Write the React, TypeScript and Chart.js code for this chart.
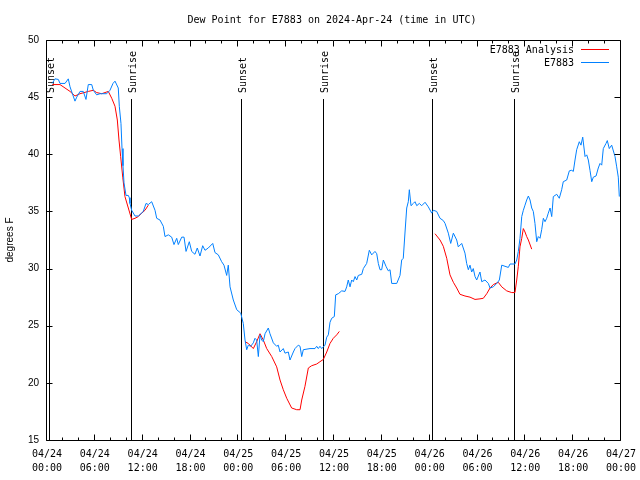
import React, { useEffect, useRef } from 'react';
import { Chart, registerables } from 'chart.js';

Chart.register(...registerables);

const chartTitle = 'Dew Point for E7883 on 2024-Apr-24 (time in UTC)';
const yAxisTitle = 'degrees F';
const analysisLabel = 'E7883 Analysis';
const observedLabel = 'E7883';

const xTickDates = ['04/24', '04/24', '04/24', '04/24', '04/25', '04/25', '04/25', '04/25', '04/26', '04/26', '04/26', '04/26', '04/27'];
const xTickTimes = ['00:00', '06:00', '12:00', '18:00', '00:00', '06:00', '12:00', '18:00', '00:00', '06:00', '12:00', '18:00', '00:00'];

// hours since 04/24 00:00 UTC
const eventHours = [0.25, 10.55, 24.3, 34.65, 48.33, 58.62];
const eventLabels = ['Sunset', 'Sunrise', 'Sunset', 'Sunrise', 'Sunset', 'Sunrise'];

// [hour, dew point °F]
const observedSeries: [number, number][] = [
  [0.66, 46.2], [1.0, 46.6], [1.42, 46.55], [1.63, 46.2], [2.26, 46.2], [2.67, 46.6], [2.89, 45.9], [3.51, 44.65], [3.73, 45.0], [4.14, 45.5],
  [4.55, 45.5], [4.89, 44.8], [5.18, 46.1], [5.61, 46.1], [5.81, 45.6], [6.23, 45.2], [6.65, 45.3], [7.49, 45.3], [7.9, 45.6], [8.28, 46.2],
  [8.53, 46.4], [8.94, 45.8], [9.07, 44.2], [9.28, 42.7], [9.41, 40.5], [9.53, 39.0], [9.66, 37.5], [9.91, 36.4], [10.2, 36.4], [10.32, 36.2],
  [10.41, 35.7], [10.62, 35.1], [11.04, 34.6], [11.45, 34.6], [12.08, 35.0], [12.42, 35.7], [12.71, 35.6], [13.13, 35.85], [13.55, 35.1], [13.76, 34.4],
  [14.17, 34.25], [14.59, 33.7], [14.8, 32.8], [15.22, 32.95], [15.64, 32.75], [15.93, 32.1], [16.27, 32.65], [16.47, 32.1], [16.9, 32.75], [17.19, 32.75],
  [17.44, 31.5], [17.85, 32.35], [18.15, 31.5], [18.56, 31.25], [18.85, 31.8], [19.19, 31.1], [19.53, 32.0], [19.82, 31.6], [20.23, 31.8], [20.79, 32.2],
  [21.07, 31.4], [21.49, 31.2], [21.91, 30.6], [22.2, 30.3], [22.54, 29.4], [22.74, 30.3], [22.96, 28.4], [23.37, 27.25], [23.8, 26.4], [24.3, 26.1],
  [24.62, 25.2], [24.84, 23.75], [25.05, 22.9], [25.25, 23.3], [25.55, 23.2], [25.88, 23.5], [26.09, 23.9], [26.3, 23.75], [26.51, 22.3], [26.72, 24.2],
  [26.93, 23.75], [27.13, 23.6], [27.35, 24.3], [27.76, 24.8], [27.97, 24.3], [28.39, 23.5], [28.81, 23.2], [29.01, 23.3], [29.23, 22.7], [29.64, 23.0],
  [29.85, 22.6], [30.27, 22.7], [30.48, 22.0], [30.9, 22.7], [31.11, 23.0], [31.52, 23.3], [31.74, 23.2], [31.95, 22.3], [32.15, 22.9], [32.99, 23.0],
  [33.62, 23.0], [33.83, 23.2], [34.03, 23.0], [34.24, 23.2], [34.46, 23.0], [34.87, 23.3], [35.09, 24.0], [35.29, 24.2], [35.5, 25.3], [35.71, 25.65],
  [36.04, 25.8], [36.21, 27.7], [36.54, 27.8], [36.97, 28.05], [37.38, 28.0], [37.59, 28.4], [37.79, 29.0], [38.01, 28.4], [38.22, 29.0], [38.42, 28.85],
  [38.64, 29.3], [38.85, 29.0], [39.05, 29.4], [39.48, 29.5], [39.68, 30.0], [40.1, 30.45], [40.43, 31.6], [40.73, 31.2], [41.14, 31.5], [41.36, 31.3],
  [41.56, 30.45], [41.77, 29.9], [41.98, 29.9], [42.19, 30.75], [42.52, 30.2], [42.81, 29.8], [43.03, 29.9], [43.24, 28.7], [43.87, 28.7], [44.28, 29.4],
  [44.49, 30.75], [44.69, 30.9], [44.91, 33.2], [45.12, 35.3], [45.32, 35.85], [45.45, 36.9], [45.66, 35.5], [45.95, 35.7], [46.16, 35.85], [46.38, 35.5],
  [46.7, 35.7], [47.0, 35.5], [47.42, 35.8], [47.83, 35.4], [48.26, 34.85], [48.46, 35.1], [48.88, 35.0], [49.3, 34.4], [49.71, 34.2], [49.93, 33.95],
  [50.34, 33.1], [50.64, 32.2], [50.97, 33.1], [51.39, 32.5], [51.59, 31.9], [52.02, 32.2], [52.43, 31.35], [52.64, 30.45], [52.85, 29.9], [53.06, 30.3],
  [53.27, 29.7], [53.47, 30.0], [53.69, 29.3], [53.9, 29.0], [54.31, 29.7], [54.53, 28.85], [54.94, 29.0], [55.36, 28.7], [55.57, 28.3], [55.98, 28.4],
  [56.41, 28.7], [56.74, 29.0], [57.04, 30.3], [57.45, 30.2], [57.87, 30.1], [58.08, 30.4], [58.7, 30.4], [58.92, 30.75], [59.12, 31.5], [59.33, 32.65],
  [59.55, 34.55], [59.75, 35.1], [59.96, 35.55], [60.17, 36.0], [60.38, 36.35], [60.59, 36.0], [60.8, 35.3], [61.0, 35.0], [61.21, 33.95], [61.43, 32.35],
  [61.63, 32.8], [61.84, 32.65], [62.05, 33.4], [62.26, 34.4], [62.47, 34.1], [62.68, 34.4], [62.88, 34.85], [63.1, 35.3], [63.31, 34.55], [63.51, 36.3],
  [63.94, 36.5], [64.26, 36.15], [64.56, 36.9], [64.76, 37.6], [65.19, 37.75], [65.52, 38.55], [65.82, 38.6], [66.02, 38.5], [66.23, 39.5], [66.44, 40.4],
  [66.77, 41.1], [66.98, 40.8], [67.2, 41.5], [67.49, 39.8], [67.7, 39.95], [67.9, 39.5], [68.11, 38.6], [68.33, 37.6], [68.53, 38.0], [68.87, 38.1],
  [69.15, 38.8], [69.37, 39.2], [69.58, 39.05], [69.78, 40.5], [70.12, 40.95], [70.28, 41.2], [70.53, 40.5], [70.83, 40.8], [71.25, 39.8], [71.46, 38.9],
  [71.66, 38.0], [71.79, 36.3],
];

// [hour, analysis dew point °F]; null marks a gap
const analysisSeries: [number, number | null][] = [
  [0.66, 46.1], [1.63, 46.1], [2.26, 45.8], [2.89, 45.5], [3.51, 45.1], [4.14, 45.3], [5.18, 45.5], [5.81, 45.6], [6.23, 45.4], [6.86, 45.3],
  [7.69, 45.5], [8.12, 44.9], [8.53, 44.2], [8.82, 43.0], [9.03, 41.25], [9.24, 39.8], [9.5, 38.0], [9.78, 36.3], [10.2, 35.3], [10.62, 34.3],
  [11.04, 34.4], [11.45, 34.55], [11.88, 34.85], [12.29, 35.1], [12.71, 35.55],
  [18.0, null],
  [24.84, 23.6], [25.25, 23.45], [25.88, 23.0], [26.3, 23.6], [26.72, 24.3], [27.13, 23.75], [27.56, 23.0], [28.19, 22.3], [28.81, 21.4], [29.23, 20.25],
  [29.64, 19.4], [30.07, 18.65], [30.69, 17.8], [31.32, 17.65], [31.74, 17.65], [31.95, 18.5], [32.36, 19.7], [32.78, 21.3], [33.2, 21.5], [33.83, 21.65],
  [34.24, 21.85], [34.66, 22.05], [35.09, 22.7], [35.5, 23.45], [35.91, 23.9], [36.34, 24.2], [36.67, 24.5],
  [42.0, null],
  [48.67, 33.05], [49.3, 32.5], [49.71, 31.95], [50.14, 30.9], [50.55, 29.45], [50.97, 28.8], [51.39, 28.3], [51.8, 27.75], [52.43, 27.6], [53.06, 27.5],
  [53.69, 27.3], [54.31, 27.35], [54.73, 27.4], [55.16, 27.8], [55.57, 28.3], [55.98, 28.6], [56.61, 28.8], [57.04, 28.4], [57.66, 28.05], [58.29, 27.9],
  [58.7, 27.9], [58.92, 29.0], [59.12, 30.2], [59.33, 31.9], [59.55, 32.65], [59.75, 33.5], [59.96, 33.2], [60.17, 32.8], [60.38, 32.5], [60.8, 31.7],
];

const observedColor = '#0080ff';
const analysisColor = '#ff0000';
const monoFont = '"DejaVu Sans Mono", "Liberation Mono", monospace';
const sansFont = '"Liberation Sans", "DejaVu Sans", sans-serif';

const decorPlugin = {
  id: 'decor',
  beforeDatasetsDraw(chart: any) {
    const { ctx, chartArea: a, scales } = chart;
    const x = scales.x;
    ctx.save();
    ctx.strokeStyle = '#000';
    ctx.fillStyle = '#000';
    ctx.lineWidth = 1;
    ctx.font = `10px ${monoFont}`;
    eventHours.forEach((h, i) => {
      const px = Math.round(x.getPixelForValue(h)) + 0.5;
      ctx.beginPath();
      ctx.moveTo(px, a.bottom);
      ctx.lineTo(px, a.top + 59);
      ctx.stroke();
      ctx.save();
      ctx.translate(px + 1.5, a.top + 53);
      ctx.rotate(-Math.PI / 2);
      ctx.textAlign = 'left';
      ctx.textBaseline = 'middle';
      ctx.fillText(eventLabels[i], 0, 0);
      ctx.restore();
    });
    ctx.restore();
  },
  afterDatasetsDraw(chart: any) {
    const { ctx, chartArea: a, scales } = chart;
    const x = scales.x;
    const y = scales.y;
    ctx.save();
    ctx.strokeStyle = '#000';
    ctx.lineWidth = 1;
    const L = a.left - 0.5;
    const R = a.right - 0.5;
    const T = a.top + 0.5;
    const B = a.bottom + 0.5;
    ctx.beginPath();
    ctx.rect(L, T, R - L, B - T);
    ctx.stroke();
    // y ticks (inward, mirrored)
    y.ticks.forEach((t: any) => {
      const py = Math.round(y.getPixelForValue(t.value)) + 0.5;
      ctx.beginPath();
      ctx.moveTo(L, py); ctx.lineTo(L + 6, py);
      ctx.moveTo(R, py); ctx.lineTo(R - 6, py);
      ctx.stroke();
    });
    // x ticks major / minor
    const minorStep = 2;
    for (let v = x.min; v <= x.max + 1e-9; v += minorStep) {
      const major = Math.abs(v % 6) < 1e-9;
      const len = major ? 6 : 3;
      const px = Math.round(x.getPixelForValue(v)) - 0.5;
      ctx.beginPath();
      ctx.moveTo(px, B); ctx.lineTo(px, B - len);
      ctx.moveTo(px, T); ctx.lineTo(px, T + len);
      ctx.stroke();
    }
    // legend
    ctx.fillStyle = '#000';
    ctx.font = `10px ${monoFont}`;
    ctx.textAlign = 'right';
    ctx.textBaseline = 'middle';
    const rows: [string, string][] = [[analysisLabel, analysisColor], [observedLabel, observedColor]];
    rows.forEach(([label, color], i) => {
      const ly = a.top + 10 + i * 13;
      ctx.fillText(label, a.right - 47, ly);
      ctx.strokeStyle = color;
      ctx.beginPath();
      ctx.moveTo(a.right - 40, ly - 0.5);
      ctx.lineTo(a.right - 12, ly - 0.5);
      ctx.stroke();
    });
    // title
    ctx.textAlign = 'center';
    ctx.fillText(chartTitle, (a.left + a.right) / 2 - 2, a.top / 2);
    ctx.restore();
  },
};

export default function App() {
  const canvasRef = useRef<HTMLCanvasElement | null>(null);

  useEffect(() => {
    const canvas = canvasRef.current;
    if (!canvas) return;
    const chart = new Chart(canvas, {
      type: 'line',
      data: {
        datasets: [
          {
            label: observedLabel,
            data: observedSeries.map(([h, v]) => ({ x: h, y: v })),
            borderColor: observedColor,
            backgroundColor: observedColor,
            borderWidth: 1,
            pointRadius: 0,
            tension: 0,
            spanGaps: false,
          },
          {
            label: analysisLabel,
            data: analysisSeries.map(([h, v]) => ({ x: h, y: v })) as any,
            borderColor: analysisColor,
            backgroundColor: analysisColor,
            borderWidth: 1,
            pointRadius: 0,
            tension: 0,
            spanGaps: false,
          },
        ],
      },
      options: {
        animation: false,
        responsive: false,
        maintainAspectRatio: false,
        layout: { padding: { top: 40, right: 19, left: 0, bottom: 0 } },
        plugins: {
          legend: { display: false },
          tooltip: { enabled: false },
          title: { display: false },
        },
        scales: {
          x: {
            type: 'linear',
            min: 0,
            max: 72,
            grid: { display: false, drawTicks: false },
            border: { display: false },
            ticks: {
              stepSize: 6,
              autoSkip: false,
              maxRotation: 0,
              padding: 7,
              color: '#000',
              font: { family: monoFont, size: 10, lineHeight: 1.4 },
              callback: (_v: any, i: number) => [xTickDates[i], xTickTimes[i]],
            },
            afterFit: (s: any) => { s.height = 40; s.paddingLeft = 0; s.paddingRight = 0; },
          },
          y: {
            type: 'linear',
            min: 15,
            max: 50,
            grid: { display: false, drawTicks: false },
            border: { display: false },
            ticks: {
              stepSize: 5,
              padding: 8,
              color: '#000',
              font: { family: sansFont, size: 10 },
            },
            title: {
              display: true,
              text: yAxisTitle,
              color: '#000',
              font: { family: sansFont, size: 10 },
              padding: { top: 4, bottom: 0 },
            },
            afterFit: (s: any) => { s.width = 47; s.paddingTop = 0; s.paddingBottom = 0; },
          },
        },
      },
      plugins: [decorPlugin],
    });
    return () => chart.destroy();
  }, []);

  return (
    <div style={{ position: 'absolute', left: 0, top: 0, width: 640, height: 480, background: '#fff' }}>
      <canvas ref={canvasRef} width={640} height={480} style={{ display: 'block', width: 640, height: 480 }} />
    </div>
  );
}
